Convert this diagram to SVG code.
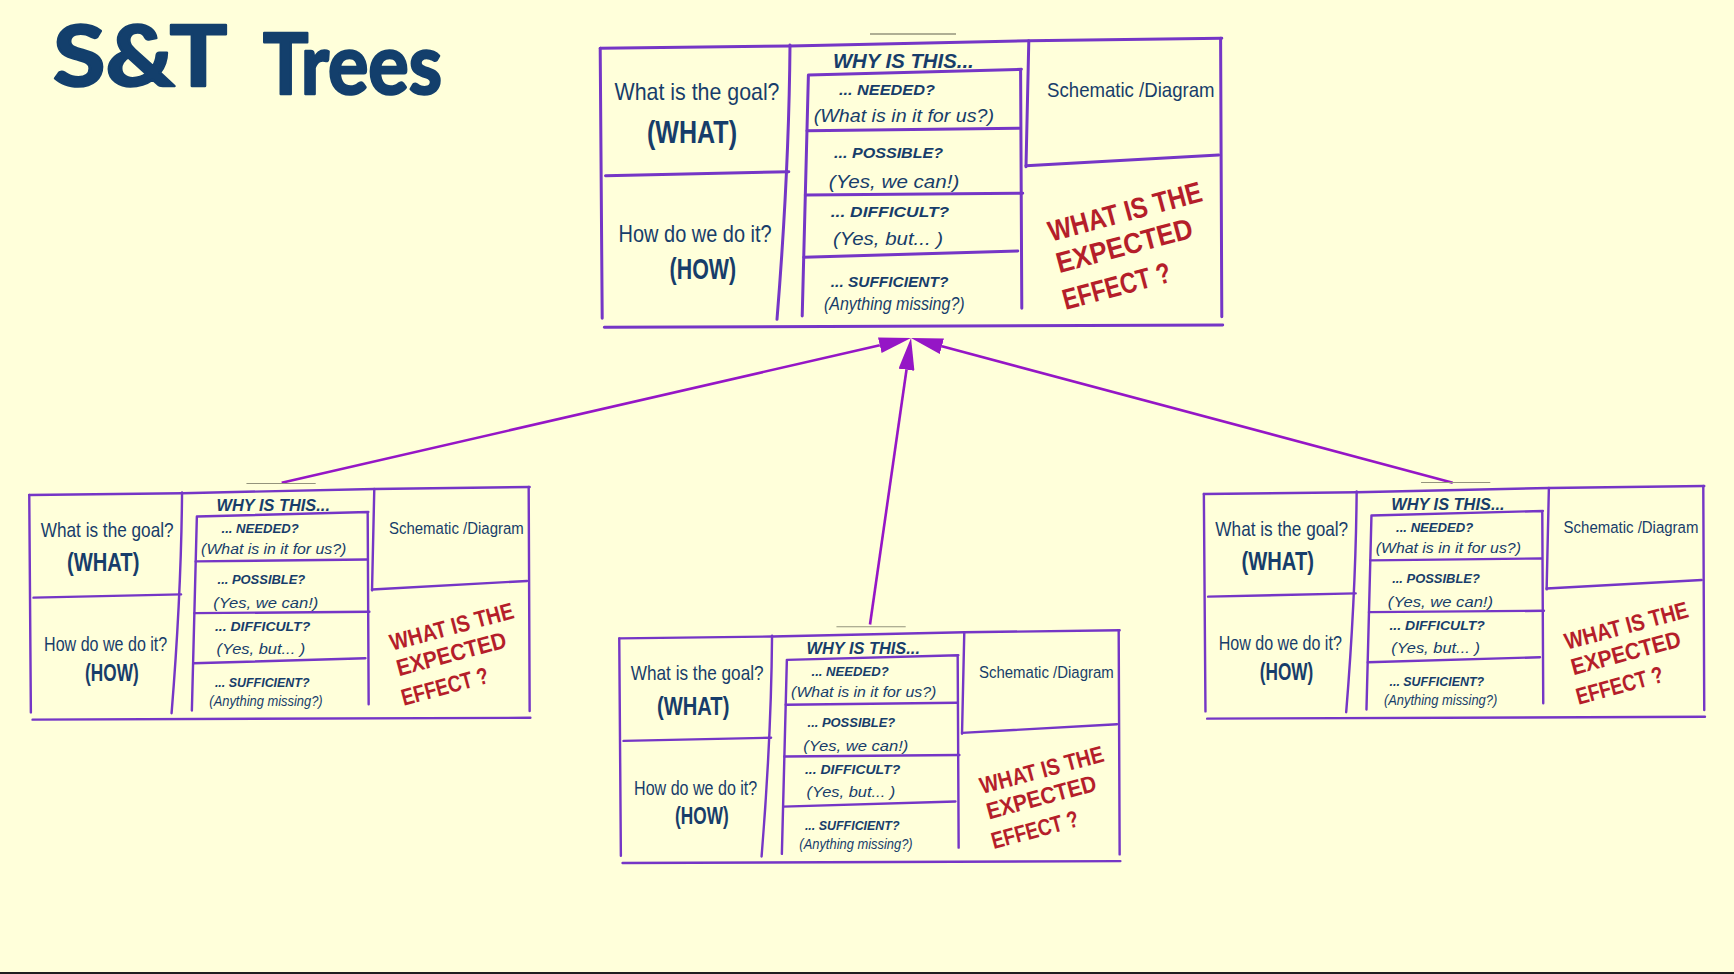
<svg xmlns="http://www.w3.org/2000/svg" width="1734" height="974" viewBox="0 0 1734 974">
<defs>
<style>
.ln{fill:none;stroke:#7536c6;stroke-width:3;stroke-linecap:round;stroke-linejoin:round}
.gr{stroke:#94947c;stroke-width:1.3}
.t{font-family:"Liberation Sans",Arial,sans-serif;fill:#173d6a}
.m{font-size:24px}
.k{font-size:32px;font-weight:bold}
.k2{font-size:30px;font-weight:bold}
.w{font-size:21px;font-weight:bold;font-style:italic}
.q{font-size:15px;font-weight:bold;font-style:italic}
.a{font-size:19px;font-style:italic}
.s{font-size:21px}
.r text{font-family:"Liberation Sans",Arial,sans-serif;font-size:29px;font-weight:bold;fill:#b51e2a}
.ttl{font-family:Lato,"Liberation Sans",Arial,sans-serif;font-size:84px;font-weight:bold;fill:#133f6c;stroke:#133f6c;stroke-width:2.5;stroke-linejoin:round}
.con{fill:none;stroke:#9516c6;stroke-width:2.6}
</style>
<marker id="ah" markerUnits="userSpaceOnUse" markerWidth="32" markerHeight="16" viewBox="0 0 32 16" refX="0" refY="8" orient="auto">
<path d="M0,0 L32,8 L0,16 Z" fill="#9516c6"/>
</marker>
</defs>
<rect x="0" y="0" width="1734" height="974" fill="#FFFFDA"/>
<rect x="0" y="972" width="1734" height="2" fill="#1f1f1f"/>
<g id="title">
<text class="ttl" x="53" y="86" textLength="174" lengthAdjust="spacingAndGlyphs">S&amp;T</text>
<text class="ttl" x="263" y="94" textLength="179" lengthAdjust="spacingAndGlyphs">Trees</text>
</g>

<g id="connectors">
<path class="con" d="M281.7,482.7 L879.8,345.2" marker-end="url(#ah)"/>
<path class="con" d="M870,624.5 L906.5,369.7" marker-end="url(#ah)"/>
<path class="con" d="M1452.7,482.7 L941.9,346.3" marker-end="url(#ah)"/>
</g>

<g id="node-top" transform="translate(600,46)">
<path class="ln" d="M0.2,2.3 L190,0 L428.8,-5.3 L621.8,-7.7"/>
<path class="ln" d="M0.2,2.3 L2.2,272.3"/>
<path class="ln" d="M620.6,-7.7 L621.8,270.7"/>
<path class="ln" d="M4.3,281.3 L622.7,279"/>
<path class="ln" d="M190,-1 Q189,125 177,273.3"/>
<path class="ln" d="M5.5,129.7 L188.8,125.7"/>
<path class="ln" d="M428.8,-5.3 L426,120.7"/>
<path class="ln" d="M426,119.7 L618.6,109"/>
<path class="ln" d="M208.4,29 L421.4,23.3 M420.6,24 L421.8,262.3 M208.4,29 L202.2,270"/>
<path class="ln" d="M207,84.7 L419.4,82.3 M205.3,149 L422.7,147.3 M203.8,211.3 L417.8,205"/>
<line class="gr" x1="270" y1="-12" x2="356" y2="-12"/>
<text class="t m" x="14.5" y="54" textLength="165" lengthAdjust="spacingAndGlyphs">What is the goal?</text>
<text class="t k" x="47" y="97" textLength="90" lengthAdjust="spacingAndGlyphs">(WHAT)</text>
<text class="t m" x="18.6" y="196.3" textLength="153" lengthAdjust="spacingAndGlyphs">How do we do it?</text>
<text class="t k2" x="69.6" y="233.3" textLength="66.5" lengthAdjust="spacingAndGlyphs">(HOW)</text>
<text class="t w" x="232.9" y="22.3" textLength="140.8" lengthAdjust="spacingAndGlyphs">WHY IS THIS...</text>
<text class="t q" x="239" y="49" textLength="95.9" lengthAdjust="spacingAndGlyphs">... NEEDED?</text>
<text class="t a" x="213.7" y="75.7" textLength="180.4" lengthAdjust="spacingAndGlyphs">(What is in it for us?)</text>
<text class="t q" x="234.1" y="112.3" textLength="109" lengthAdjust="spacingAndGlyphs">... POSSIBLE?</text>
<text class="t a" x="228.8" y="142.3" textLength="130.6" lengthAdjust="spacingAndGlyphs">(Yes, we can!)</text>
<text class="t q" x="230.8" y="171.3" textLength="118.4" lengthAdjust="spacingAndGlyphs">... DIFFICULT?</text>
<text class="t a" x="232.9" y="199.3" textLength="110.2" lengthAdjust="spacingAndGlyphs">(Yes, but... )</text>
<text class="t q" x="230.8" y="240.7" textLength="117.6" lengthAdjust="spacingAndGlyphs">... SUFFICIENT?</text>
<text class="t a" x="223.9" y="264" textLength="140.8" lengthAdjust="spacingAndGlyphs">(Anything missing?)</text>
<text class="t s" x="447.1" y="51.3" textLength="167.4" lengthAdjust="spacingAndGlyphs">Schematic /Diagram</text>
<g class="r" transform="translate(451.2,195.7) rotate(-15)">
<text x="0" y="0" textLength="158" lengthAdjust="spacingAndGlyphs">WHAT IS THE</text>
<text x="-0.3" y="32.6" textLength="140" lengthAdjust="spacingAndGlyphs">EXPECTED</text>
<text x="-3.9" y="69.7" textLength="111" lengthAdjust="spacingAndGlyphs">EFFECT ?</text>
</g>
</g>

<g id="node-left" transform="translate(29.1,493.2) scale(0.805)">
<path class="ln" d="M0.2,2.3 L190,0 L428.8,-5.3 L621.8,-7.7"/>
<path class="ln" d="M0.2,2.3 L2.2,272.3"/>
<path class="ln" d="M620.6,-7.7 L621.8,270.7"/>
<path class="ln" d="M4.3,281.3 L622.7,279"/>
<path class="ln" d="M190,-1 Q189,125 177,273.3"/>
<path class="ln" d="M5.5,129.7 L188.8,125.7"/>
<path class="ln" d="M428.8,-5.3 L426,120.7"/>
<path class="ln" d="M426,119.7 L618.6,109"/>
<path class="ln" d="M208.4,29 L421.4,23.3 M420.6,24 L421.8,262.3 M208.4,29 L202.2,270"/>
<path class="ln" d="M207,84.7 L419.4,82.3 M205.3,149 L422.7,147.3 M203.8,211.3 L417.8,205"/>
<line class="gr" x1="270" y1="-12" x2="356" y2="-12"/>
<text class="t m" x="14.5" y="54" textLength="165" lengthAdjust="spacingAndGlyphs">What is the goal?</text>
<text class="t k" x="47" y="97" textLength="90" lengthAdjust="spacingAndGlyphs">(WHAT)</text>
<text class="t m" x="18.6" y="196.3" textLength="153" lengthAdjust="spacingAndGlyphs">How do we do it?</text>
<text class="t k2" x="69.6" y="233.3" textLength="66.5" lengthAdjust="spacingAndGlyphs">(HOW)</text>
<text class="t w" x="232.9" y="22.3" textLength="140.8" lengthAdjust="spacingAndGlyphs">WHY IS THIS...</text>
<text class="t q" x="239" y="49" textLength="95.9" lengthAdjust="spacingAndGlyphs">... NEEDED?</text>
<text class="t a" x="213.7" y="75.7" textLength="180.4" lengthAdjust="spacingAndGlyphs">(What is in it for us?)</text>
<text class="t q" x="234.1" y="112.3" textLength="109" lengthAdjust="spacingAndGlyphs">... POSSIBLE?</text>
<text class="t a" x="228.8" y="142.3" textLength="130.6" lengthAdjust="spacingAndGlyphs">(Yes, we can!)</text>
<text class="t q" x="230.8" y="171.3" textLength="118.4" lengthAdjust="spacingAndGlyphs">... DIFFICULT?</text>
<text class="t a" x="232.9" y="199.3" textLength="110.2" lengthAdjust="spacingAndGlyphs">(Yes, but... )</text>
<text class="t q" x="230.8" y="240.7" textLength="117.6" lengthAdjust="spacingAndGlyphs">... SUFFICIENT?</text>
<text class="t a" x="223.9" y="264" textLength="140.8" lengthAdjust="spacingAndGlyphs">(Anything missing?)</text>
<text class="t s" x="447.1" y="51.3" textLength="167.4" lengthAdjust="spacingAndGlyphs">Schematic /Diagram</text>
<g class="r" transform="translate(451.2,195.7) rotate(-15)">
<text x="0" y="0" textLength="158" lengthAdjust="spacingAndGlyphs">WHAT IS THE</text>
<text x="-0.3" y="32.6" textLength="140" lengthAdjust="spacingAndGlyphs">EXPECTED</text>
<text x="-3.9" y="69.7" textLength="111" lengthAdjust="spacingAndGlyphs">EFFECT ?</text>
</g>
</g>

<g id="node-center" transform="translate(619.1,636.5) scale(0.805)">
<path class="ln" d="M0.2,2.3 L190,0 L428.8,-5.3 L621.8,-7.7"/>
<path class="ln" d="M0.2,2.3 L2.2,272.3"/>
<path class="ln" d="M620.6,-7.7 L621.8,270.7"/>
<path class="ln" d="M4.3,281.3 L622.7,279"/>
<path class="ln" d="M190,-1 Q189,125 177,273.3"/>
<path class="ln" d="M5.5,129.7 L188.8,125.7"/>
<path class="ln" d="M428.8,-5.3 L426,120.7"/>
<path class="ln" d="M426,119.7 L618.6,109"/>
<path class="ln" d="M208.4,29 L421.4,23.3 M420.6,24 L421.8,262.3 M208.4,29 L202.2,270"/>
<path class="ln" d="M207,84.7 L419.4,82.3 M205.3,149 L422.7,147.3 M203.8,211.3 L417.8,205"/>
<line class="gr" x1="270" y1="-12" x2="356" y2="-12"/>
<text class="t m" x="14.5" y="54" textLength="165" lengthAdjust="spacingAndGlyphs">What is the goal?</text>
<text class="t k" x="47" y="97" textLength="90" lengthAdjust="spacingAndGlyphs">(WHAT)</text>
<text class="t m" x="18.6" y="196.3" textLength="153" lengthAdjust="spacingAndGlyphs">How do we do it?</text>
<text class="t k2" x="69.6" y="233.3" textLength="66.5" lengthAdjust="spacingAndGlyphs">(HOW)</text>
<text class="t w" x="232.9" y="22.3" textLength="140.8" lengthAdjust="spacingAndGlyphs">WHY IS THIS...</text>
<text class="t q" x="239" y="49" textLength="95.9" lengthAdjust="spacingAndGlyphs">... NEEDED?</text>
<text class="t a" x="213.7" y="75.7" textLength="180.4" lengthAdjust="spacingAndGlyphs">(What is in it for us?)</text>
<text class="t q" x="234.1" y="112.3" textLength="109" lengthAdjust="spacingAndGlyphs">... POSSIBLE?</text>
<text class="t a" x="228.8" y="142.3" textLength="130.6" lengthAdjust="spacingAndGlyphs">(Yes, we can!)</text>
<text class="t q" x="230.8" y="171.3" textLength="118.4" lengthAdjust="spacingAndGlyphs">... DIFFICULT?</text>
<text class="t a" x="232.9" y="199.3" textLength="110.2" lengthAdjust="spacingAndGlyphs">(Yes, but... )</text>
<text class="t q" x="230.8" y="240.7" textLength="117.6" lengthAdjust="spacingAndGlyphs">... SUFFICIENT?</text>
<text class="t a" x="223.9" y="264" textLength="140.8" lengthAdjust="spacingAndGlyphs">(Anything missing?)</text>
<text class="t s" x="447.1" y="51.3" textLength="167.4" lengthAdjust="spacingAndGlyphs">Schematic /Diagram</text>
<g class="r" transform="translate(451.2,195.7) rotate(-15)">
<text x="0" y="0" textLength="158" lengthAdjust="spacingAndGlyphs">WHAT IS THE</text>
<text x="-0.3" y="32.6" textLength="140" lengthAdjust="spacingAndGlyphs">EXPECTED</text>
<text x="-3.9" y="69.7" textLength="111" lengthAdjust="spacingAndGlyphs">EFFECT ?</text>
</g>
</g>

<g id="node-right" transform="translate(1203.7,492.2) scale(0.805)">
<path class="ln" d="M0.2,2.3 L190,0 L428.8,-5.3 L621.8,-7.7"/>
<path class="ln" d="M0.2,2.3 L2.2,272.3"/>
<path class="ln" d="M620.6,-7.7 L621.8,270.7"/>
<path class="ln" d="M4.3,281.3 L622.7,279"/>
<path class="ln" d="M190,-1 Q189,125 177,273.3"/>
<path class="ln" d="M5.5,129.7 L188.8,125.7"/>
<path class="ln" d="M428.8,-5.3 L426,120.7"/>
<path class="ln" d="M426,119.7 L618.6,109"/>
<path class="ln" d="M208.4,29 L421.4,23.3 M420.6,24 L421.8,262.3 M208.4,29 L202.2,270"/>
<path class="ln" d="M207,84.7 L419.4,82.3 M205.3,149 L422.7,147.3 M203.8,211.3 L417.8,205"/>
<line class="gr" x1="270" y1="-12" x2="356" y2="-12"/>
<text class="t m" x="14.5" y="54" textLength="165" lengthAdjust="spacingAndGlyphs">What is the goal?</text>
<text class="t k" x="47" y="97" textLength="90" lengthAdjust="spacingAndGlyphs">(WHAT)</text>
<text class="t m" x="18.6" y="196.3" textLength="153" lengthAdjust="spacingAndGlyphs">How do we do it?</text>
<text class="t k2" x="69.6" y="233.3" textLength="66.5" lengthAdjust="spacingAndGlyphs">(HOW)</text>
<text class="t w" x="232.9" y="22.3" textLength="140.8" lengthAdjust="spacingAndGlyphs">WHY IS THIS...</text>
<text class="t q" x="239" y="49" textLength="95.9" lengthAdjust="spacingAndGlyphs">... NEEDED?</text>
<text class="t a" x="213.7" y="75.7" textLength="180.4" lengthAdjust="spacingAndGlyphs">(What is in it for us?)</text>
<text class="t q" x="234.1" y="112.3" textLength="109" lengthAdjust="spacingAndGlyphs">... POSSIBLE?</text>
<text class="t a" x="228.8" y="142.3" textLength="130.6" lengthAdjust="spacingAndGlyphs">(Yes, we can!)</text>
<text class="t q" x="230.8" y="171.3" textLength="118.4" lengthAdjust="spacingAndGlyphs">... DIFFICULT?</text>
<text class="t a" x="232.9" y="199.3" textLength="110.2" lengthAdjust="spacingAndGlyphs">(Yes, but... )</text>
<text class="t q" x="230.8" y="240.7" textLength="117.6" lengthAdjust="spacingAndGlyphs">... SUFFICIENT?</text>
<text class="t a" x="223.9" y="264" textLength="140.8" lengthAdjust="spacingAndGlyphs">(Anything missing?)</text>
<text class="t s" x="447.1" y="51.3" textLength="167.4" lengthAdjust="spacingAndGlyphs">Schematic /Diagram</text>
<g class="r" transform="translate(451.2,195.7) rotate(-15)">
<text x="0" y="0" textLength="158" lengthAdjust="spacingAndGlyphs">WHAT IS THE</text>
<text x="-0.3" y="32.6" textLength="140" lengthAdjust="spacingAndGlyphs">EXPECTED</text>
<text x="-3.9" y="69.7" textLength="111" lengthAdjust="spacingAndGlyphs">EFFECT ?</text>
</g>
</g>
</svg>
